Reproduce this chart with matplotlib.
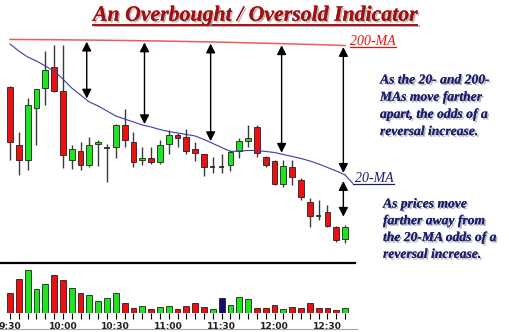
import matplotlib
matplotlib.use("Agg")
import matplotlib.pyplot as plt
import numpy as np
from matplotlib import patheffects as pe
from matplotlib.lines import Line2D
from matplotlib.patches import ArrowStyle

# ---- 5-minute bars, 9:30 to 12:40 ----
open_ = [61.3, 55.5, 54.0, 59.2, 61.2, 63.3, 60.9, 54.0, 54.9, 53.5,
         55.6, 55.2, 55.3, 57.5, 55.8, 54.0, 54.2, 53.8, 55.6, 56.5,
         56.3, 55.1, 54.6, 53.3, 53.3, 53.5, 54.9, 55.9, 57.3, 54.3,
         53.9, 51.6, 53.3, 52.0, 49.8, 48.4, 48.8, 47.3, 46.1]
high = [61.4, 56.8, 60.2, 61.1, 64.9, 65.5, 65.5, 55.5, 55.8, 56.3,
        56.0, 55.6, 57.6, 59.1, 56.8, 55.3, 55.3, 56.0, 57.0, 56.7,
        57.1, 55.8, 54.6, 54.3, 54.6, 55.0, 56.2, 57.5, 57.5, 54.4,
        54.0, 54.0, 54.0, 52.2, 50.2, 50.0, 49.5, 47.4, 47.5]
low = [54.0, 52.5, 53.0, 55.5, 59.5, 60.8, 53.2, 53.1, 53.0, 53.3,
       53.4, 51.8, 54.2, 55.3, 53.3, 53.5, 53.6, 53.6, 54.6, 55.3,
       54.6, 53.9, 52.4, 52.7, 52.7, 52.9, 54.2, 55.3, 54.3, 53.3,
       51.5, 51.3, 51.5, 50.0, 47.3, 48.0, 47.3, 45.8, 45.7]
close = [55.8, 54.0, 59.5, 61.1, 63.0, 60.9, 54.5, 55.1, 53.5, 55.5,
         55.8, 55.2, 57.5, 56.0, 53.8, 54.2, 53.8, 55.5, 56.5, 56.2,
         54.9, 54.7, 53.3, 53.3, 53.3, 54.8, 55.9, 56.2, 54.7, 53.5,
         51.6, 53.4, 52.3, 50.3, 48.4, 48.4, 47.4, 46.0, 47.3]

ma20 = [65.6, 64.9, 64.3, 63.9, 63.4, 62.9, 62.1, 61.2, 60.5, 59.8,
        59.4, 58.9, 58.4, 58.1, 57.8, 57.5, 57.3, 57.05, 56.85, 56.7,
        56.55, 56.4, 56.05, 55.65, 55.25, 54.85, 54.9, 54.95, 54.95, 54.85,
        54.75, 54.55, 54.35, 54.15, 53.9, 53.6, 53.25, 52.9, 52.5]
ma200 = [66.05, 66.05, 66.04, 66.04, 66.03, 66.03, 66.02, 66.01, 66.00, 65.99,
         65.98, 65.97, 65.96, 65.95, 65.94, 65.92, 65.91, 65.90, 65.88, 65.87,
         65.85, 65.83, 65.82, 65.80, 65.78, 65.76, 65.74, 65.72, 65.70, 65.68,
         65.66, 65.63, 65.61, 65.58, 65.56, 65.53, 65.51, 65.48, 65.45]

volume = [200, 335, 425, 235, 285, 375, 325, 250, 200, 180,
          120, 150, 195, 100, 50, 70, 40, 55, 65, 35,
          65, 100, 60, 35, 150, 75, 160, 135, 50, 50,
          75, 35, 60, 50, 100, 50, 50, 30, 50]
volume_side = ["dn", "dn", "up", "up", "up", "dn", "dn", "up", "dn", "up",
               "up", "up", "up", "dn", "dn", "up", "dn", "up", "up", "dn",
               "dn", "dn", "dn", "up", "eq", "up", "up", "up", "dn", "dn",
               "dn", "up", "dn", "dn", "dn", "dn", "dn", "dn", "up"]

time_labels = ["9:30", "10:00", "10:30", "11:00", "11:30", "12:00", "12:30"]
bars_per_label = 6

# bars where the MA spread is marked
spread_marks = [8.7, 15.25, 22.75, 30.8, 37.8]

title = "An Overbought / Oversold Indicator"
note_ma = "As the 20- and 200-\nMAs move farther\napart, the odds of a\nreversal increase."
note_price = "As prices move\nfarther away from\nthe 20-MA odds of a\nreversal increase."

# ---- styling ----
RED = "#ee1010"
GREEN = "#1fe51f"
NAVY = "#1c1c70"
TITLE_RED = "#a50f0f"
MA20_COLOR = "#3c3ca8"
MA200_COLOR = "#f05a5a"
SERIF = "Liberation Serif"

W, H = 510, 332
fig = plt.figure(figsize=(W / 100, H / 100), dpi=100)
fig.patch.set_facecolor("white")


def fx(px):
    return px / W


def fy(py):
    return 1 - py / H


o = np.array(open_)
h = np.array(high)
l = np.array(low)
c = np.array(close)
x = np.arange(len(c))
xlim = (-1.134, 39.12)

# ---- price panel ----
ax = fig.add_axes([0, fy(263), fx(355), (263 - 30) / H])
ax.set_xlim(*xlim)
ax.set_ylim(43.7, 67.0)
for s in ("top", "left", "right"):
    ax.spines[s].set_visible(False)
ax.spines["bottom"].set_linewidth(1.6)
ax.spines["bottom"].set_color("black")
ax.set_xticks([])
ax.set_yticks([])

ax.vlines(x, l, h, color="#3a3a3a", lw=1.0, zorder=2)
up = c > o
dn = c < o
eq = c == o
ax.bar(x[up], (c - o)[up], bottom=o[up], width=0.66, color=GREEN,
       edgecolor="#202020", lw=0.6, zorder=3)
ax.bar(x[dn], (o - c)[dn], bottom=c[dn], width=0.66, color=RED,
       edgecolor="#202020", lw=0.6, zorder=3)
ax.hlines(o[eq], x[eq] - 0.3, x[eq] + 0.3, color="#202020", lw=1.2, zorder=3)

ax.plot(x, ma200, color=MA200_COLOR, lw=1.1, zorder=4)
ax.plot(x, ma20, color=MA20_COLOR, lw=0.8, zorder=4)

arrow = ArrowStyle("<|-|>", head_length=0.55, head_width=0.28)
for xm in spread_marks:
    top = np.interp(xm, x, ma200)
    bot = np.interp(xm, x, ma20)
    ax.annotate("", xy=(xm, bot), xytext=(xm, top),
                arrowprops=dict(arrowstyle=arrow, color="black", lw=1.0,
                                mutation_scale=10, shrinkA=1.2, shrinkB=1),
                zorder=5)
# distance from the 20-MA down to the last bar
last_x = spread_marks[-1]
ax.annotate("", xy=(last_x, h[-1]), xytext=(last_x, np.interp(last_x, x, ma20)),
            arrowprops=dict(arrowstyle=arrow, color="black", lw=1.0,
                            mutation_scale=10, shrinkA=5, shrinkB=6),
            zorder=5)

# ---- volume panel ----
axv = fig.add_axes([0, fy(312.5), fx(355), (312.5 - 264.5) / H])
axv.set_xlim(*xlim)
axv.set_ylim(0, 480)
side_colors = {"up": GREEN, "dn": RED, "eq": "#101070"}
axv.bar(x, volume, width=0.66, color=[side_colors[s] for s in volume_side],
        edgecolor="#202020", lw=0.6)
for s in axv.spines.values():
    s.set_visible(False)
axv.set_yticks([])
axv.set_xticks(x[::bars_per_label])
axv.set_xticklabels(time_labels)
axv.set_xticks(x, minor=True)
axv.tick_params(axis="x", which="both", direction="out", length=4.3,
                width=0.8, color="black", pad=2.6)
for t in axv.get_xticklabels():
    t.set_fontsize(6.6)
    t.set_fontweight("bold")
    t.set_color("#202020")

fig.add_artist(Line2D([0, fx(357)], [fy(329), fy(329)], color="#a8a8a8",
                      lw=0.8, transform=fig.transFigure))

# ---- text ----
shadow = [pe.withSimplePatchShadow(offset=(1.2, -1.2), shadow_rgbFace="#9a9a9a",
                                   alpha=0.7), pe.Normal()]
line_shadow = [pe.SimpleLineShadow(offset=(1.2, -1.2), shadow_color="#9a9a9a",
                                   alpha=0.7), pe.Normal()]

t_title = fig.text(fx(255), fy(20.7), title, ha="center", va="baseline",
                   fontsize=15.7, family=SERIF, weight="bold", style="italic",
                   color=TITLE_RED, path_effects=shadow)
t_200 = fig.text(fx(350), fy(45), "200-MA", ha="left", va="baseline",
                 fontsize=10, family=SERIF, style="italic", color=RED)
t_20 = fig.text(fx(355), fy(181.5), "20-MA", ha="left", va="baseline",
                fontsize=10, family=SERIF, style="italic", color=NAVY)
fig.text(fx(380), fy(73.5), note_ma, ha="left", va="top", fontsize=9.8,
         family=SERIF, weight="bold", style="italic", color=NAVY,
         linespacing=1.42, path_effects=shadow)
fig.text(fx(383), fy(197.5), note_price, ha="left", va="top", fontsize=9.8,
         family=SERIF, weight="bold", style="italic", color=NAVY,
         linespacing=1.38, path_effects=shadow)

# connect the 20-MA to its label
ax.annotate("", xy=(x[-1], ma20[-1]), xytext=(fx(353), fy(183.5)),
            textcoords="figure fraction", annotation_clip=False,
            arrowprops=dict(arrowstyle="-", color=MA20_COLOR, lw=0.8,
                            shrinkA=0, shrinkB=0))

fig.canvas.draw()
renderer = fig.canvas.get_renderer()


def underline(txt, y_px, color, lw, effects=None, x0=None):
    bb = txt.get_window_extent(renderer)
    start = bb.x0 if x0 is None else x0
    ln = Line2D([fx(start), fx(bb.x1)], [fy(y_px), fy(y_px)], color=color,
                lw=lw, transform=fig.transFigure)
    if effects:
        ln.set_path_effects(effects)
    fig.add_artist(ln)


underline(t_title, 24.5, TITLE_RED, 1.4, line_shadow)
underline(t_200, 46.8, RED, 0.9)
underline(t_20, 183.5, NAVY, 0.9, x0=353)

fig.savefig("out.png", dpi=100, facecolor="white")
